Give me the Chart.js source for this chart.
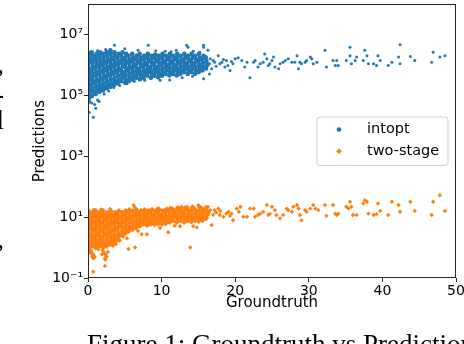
<!DOCTYPE html>
<html><head><meta charset="utf-8">
<script src="https://cdn.jsdelivr.net/npm/chart.js@4.4.1/dist/chart.umd.min.js"></script>
<style>
html,body{margin:0;padding:0;background:#fff;overflow:hidden;}
#wrap{position:relative;width:464px;height:344px;overflow:hidden;background:#fff;}
canvas{position:absolute;left:0;top:0;}
.cap{position:absolute;left:87px;top:331px;font-family:"Liberation Serif","Times New Roman",serif;font-size:27px;line-height:27px;white-space:nowrap;color:#000;}
.frag{position:absolute;left:-26px;width:30px;text-align:right;font-family:"Liberation Serif",serif;font-size:27px;line-height:27px;color:#000;white-space:nowrap;}
</style></head><body>
<div id="wrap">
<canvas id="c" width="464" height="344"></canvas>
<div class="frag" style="top:51px">,</div>
<div class="frag" style="top:81px">-</div>
<div class="frag" style="top:107px">l</div>
<div class="frag" style="top:226px">,</div>
<div class="cap">Figure 1: Groundtruth vs Prediction</div>
</div>
<script>
// ---- axis ticks / labels ----
const xTickValues = [0, 10, 20, 30, 40, 50];
const yTickExponents = [-1, 1, 3, 5, 7];
const seriesLabels = ['intopt', 'two-stage'];

// ---- intopt: dense cluster (Groundtruth 0-16) ----
const intoptCoreX = [
0.1,0.2,0.12,0.25,0.08,0.18,0.22,0.1,0.28,0.15,0.05,0.2,0.12,0.25,
0.55,0.65,0.6,0.5,0.7,0.58,0.62,0.52,0.68,0.6,0.55,0.66,0.5,
1.05,1.15,1.1,1.0,1.2,1.08,1.12,1.02,1.18,1.1,1.05,1.15,
1.55,1.65,1.6,1.5,1.7,1.58,1.62,1.52,1.68,1.6,1.55,1.65,
2.05,2.15,2.1,2.0,2.2,2.08,2.12,2.02,2.18,2.1,2.05,
2.55,2.65,2.6,2.5,2.7,2.58,2.62,2.52,2.68,2.6,2.55,
3.05,3.15,3.1,3.0,3.2,3.08,3.12,3.02,3.18,3.1,3.05,
3.55,3.65,3.6,3.5,3.7,3.58,3.62,3.52,3.68,3.6,
4.05,4.15,4.1,4.0,4.2,4.08,4.12,4.02,4.18,
4.55,4.65,4.6,4.5,4.7,4.58,4.62,4.52,4.68,
5.05,5.15,5.1,5.0,5.2,5.08,5.12,5.02,5.18,
5.55,5.65,5.6,5.5,5.7,5.58,5.62,5.52,
6.05,6.15,6.1,6.0,6.2,6.08,6.12,6.02,
6.55,6.65,6.6,6.5,6.7,6.58,6.62,
7.05,7.15,7.1,7.0,7.2,7.08,7.12,7.02,
7.55,7.65,7.6,7.5,7.7,7.58,7.62,
8.05,8.15,8.1,8.0,8.2,8.08,8.12,
8.55,8.65,8.6,8.5,8.7,8.58,8.62,
9.05,9.15,9.1,9.0,9.2,9.08,9.12,
9.55,9.65,9.6,9.5,9.7,9.58,9.62,
10.05,10.15,10.1,10.0,10.2,10.08,10.12,
10.55,10.65,10.6,10.5,10.7,10.58,
11.05,11.15,11.1,11.0,11.2,11.08,11.12,
11.55,11.65,11.6,11.5,11.7,11.58,
12.05,12.15,12.1,12.0,12.2,12.08,12.12,
12.55,12.65,12.6,12.5,12.7,12.58,
13.05,13.15,13.1,13.0,13.2,13.08,
13.55,13.65,13.6,13.5,13.7,13.58,
14.05,14.15,14.1,14.0,14.2,14.08,
14.55,14.65,14.6,14.5,14.7,14.58,
15.05,15.15,15.1,15.0,15.2,15.08,
15.55,15.65,15.6,15.5,15.7,
16.05,16.2,16.1,16.0
];
const intoptCoreY = [
6.3e4,8.3e4,1.1e5,1.45e5,1.9e5,2.5e5,3.3e5,4.4e5,5.8e5,7.6e5,1e6,1.3e6,1.7e6,2.3e6,
9.5e4,1.3e5,1.7e5,2.2e5,2.9e5,3.8e5,5e5,6.6e5,8.7e5,1.15e6,1.5e6,2e6,2.6e6,
1.1e5,1.45e5,1.9e5,2.5e5,3.3e5,4.4e5,5.8e5,7.6e5,1e6,1.3e6,1.7e6,2.3e6,
1.3e5,1.7e5,2.2e5,2.9e5,3.8e5,5e5,6.6e5,8.7e5,1.15e6,1.5e6,2e6,2.6e6,
1.45e5,1.9e5,2.5e5,3.3e5,4.4e5,5.8e5,7.6e5,1e6,1.3e6,1.7e6,2.3e6,
1.7e5,2.2e5,2.9e5,3.8e5,5e5,6.6e5,8.7e5,1.15e6,1.5e6,2e6,2.6e6,
1.9e5,2.5e5,3.3e5,4.4e5,5.8e5,7.6e5,1e6,1.3e6,1.7e6,2.3e6,3e6,
2.2e5,2.9e5,3.8e5,5e5,6.6e5,8.7e5,1.15e6,1.5e6,2e6,2.6e6,
2.5e5,3.3e5,4.4e5,5.8e5,7.6e5,1e6,1.3e6,1.7e6,2.3e6,
2.9e5,3.8e5,5e5,6.6e5,8.7e5,1.15e6,1.5e6,2e6,2.6e6,
2.6e5,3.3e5,4.4e5,5.8e5,7.6e5,1e6,1.3e6,1.7e6,2.3e6,
2.9e5,3.8e5,5e5,6.6e5,8.7e5,1.15e6,1.5e6,2e6,
3.3e5,4.4e5,5.8e5,7.6e5,1e6,1.3e6,1.7e6,2.3e6,
3.8e5,5e5,6.6e5,8.7e5,1.15e6,1.5e6,2e6,
3.4e5,4.4e5,5.8e5,7.6e5,1e6,1.3e6,1.7e6,2.3e6,
3.8e5,5e5,6.6e5,8.7e5,1.15e6,1.5e6,2e6,
4.4e5,5.8e5,7.6e5,1e6,1.3e6,1.7e6,2.3e6,
3.8e5,5e5,6.6e5,8.7e5,1.15e6,1.5e6,2e6,
4.4e5,5.8e5,7.6e5,1e6,1.3e6,1.7e6,2.2e6,
3.9e5,5e5,6.6e5,8.7e5,1.15e6,1.5e6,2e6,
4.4e5,5.8e5,7.6e5,1e6,1.3e6,1.7e6,2.3e6,
5e5,6.6e5,8.7e5,1.15e6,1.5e6,2e6,
4.5e5,5.8e5,7.6e5,1e6,1.3e6,1.7e6,2.3e6,
5e5,6.6e5,8.7e5,1.15e6,1.5e6,2e6,
4.5e5,5.8e5,7.6e5,1e6,1.3e6,1.7e6,2.3e6,
5e5,6.6e5,8.7e5,1.15e6,1.5e6,2e6,
5.8e5,7.6e5,1e6,1.3e6,1.7e6,2.3e6,
5e5,6.6e5,8.7e5,1.15e6,1.5e6,2e6,
5.8e5,7.6e5,1e6,1.3e6,1.7e6,2.3e6,
5.1e5,6.6e5,8.7e5,1.15e6,1.5e6,2e6,
5.8e5,7.6e5,1e6,1.3e6,1.7e6,2.3e6,
6.6e5,8.7e5,1.15e6,1.5e6,2e6,
7.6e5,1e6,1.3e6,1.7e6
];
// ---- intopt: scattered points on the cluster's edges ----
const intoptEdgeX = [3.6,5.0,8.2,13.4,13.6,15.7,15.2,12.0,2.4,1.3,6.8,10.5,0.4,11.3,9.2,14.3,
0.15,0.72,1.05,0.5,1.3,1.5,0.9,2.2,2.8,3.5,4.3,5.3,6.3,7.7,9.8,11.1,12.8,15.7,14.2,16.5];
const intoptEdgeY = [4.4e6,3.4e6,4.4e6,4.4e6,3.8e6,4.4e6,2.6e6,3e6,3.2e6,2.9e6,3e6,2.8e6,2.7e6,2.7e6,2.9e6,2.8e6,
2.8e4,1.9e4,3.8e4,5.6e4,7e4,6.3e4,5e4,1.1e5,1.4e5,1.8e5,2.1e5,2.4e5,2.9e5,3.1e5,3.1e5,3.2e5,3.8e5,3.5e5,4.2e5,5e5];
// ---- intopt: sparse tail (Groundtruth 16-49) ----
const intoptTailX = [15.7,16.3,17.0,17.7,18.2,18.6,18.8,19.3,19.7,20.0,20.4,20.9,21.3,21.6,22.0,22.5,22.7,23.1,23.4,23.8,
24.0,24.3,24.5,24.7,25.0,25.2,25.4,25.9,26.1,26.5,26.8,27.2,27.7,28.1,28.4,28.6,28.8,29.0,29.5,29.7,
30.2,30.4,30.6,31.1,32.2,32.4,33.3,33.6,33.8,34.0,35.1,35.6,35.6,35.8,36.3,36.5,37.4,37.6,37.9,38.1,
38.8,39.2,39.4,39.7,40.8,41.3,42.2,42.4,42.4,43.8,44.4,46.7,46.9,47.8,48.5,
16.0,16.5,16.8,17.2,17.4,16.6,17.9,18.4,19.0,19.5];
const intoptTailY = [3.8e6,3e6,1.4e6,2e6,1.23e6,8.5e5,1.4e6,6.6e5,1.1e6,1.6e6,1.7e6,1.4e6,8.5e5,1.23e6,3.8e5,1.23e6,1.4e6,8.5e5,1.1e6,1.23e6,
2.3e6,1.6e6,9.5e5,1.1e6,1.4e6,1.8e6,8.5e5,7.4e5,1.1e6,1.23e6,1.4e6,1.6e6,1.23e6,1.23e6,2e6,7.4e5,1.23e6,1.1e6,1.23e6,1.4e6,
1.8e6,1.6e6,1.1e6,1.23e6,3e6,8.5e5,1.4e6,9.5e5,1.4e6,9.5e5,1.4e6,3.8e6,2e6,1.1e6,1.4e6,1.8e6,1.4e6,3e6,2e6,1.1e6,
1.1e6,9.5e5,2e6,1.4e6,9.5e5,1.23e6,1.8e6,4.6e6,1.1e6,1.9e6,1.4e6,1.23e6,2.6e6,1.8e6,2e6,
1.9e6,1.1e6,7.4e5,1.23e6,9e5,1.6e6,1.1e6,1.5e6,9.5e5,1.3e6];

// ---- two-stage: dense cluster (Groundtruth 0-16) ----
const twoStageCoreX = [
0.1,0.2,0.12,0.25,0.08,0.18,0.22,0.1,0.28,0.15,0.05,
0.55,0.65,0.6,0.5,0.7,0.58,0.62,0.52,0.68,0.6,
1.05,1.15,1.1,1.0,1.2,1.08,1.12,1.02,1.18,1.1,1.05,
1.55,1.65,1.6,1.5,1.7,1.58,1.62,1.52,1.68,1.6,
2.05,2.15,2.1,2.0,2.2,2.08,2.12,2.02,2.18,2.1,2.05,
2.55,2.65,2.6,2.5,2.7,2.58,2.62,2.52,2.68,2.6,
3.05,3.15,3.1,3.0,3.2,3.08,3.12,3.02,3.18,3.1,
3.55,3.65,3.6,3.5,3.7,3.58,3.62,3.52,3.68,
4.05,4.15,4.1,4.0,4.2,4.08,4.12,4.02,4.18,
4.55,4.65,4.6,4.5,4.7,4.58,4.62,
5.05,5.15,5.1,5.0,5.2,5.08,5.12,
5.55,5.65,5.6,5.5,5.7,5.58,5.62,
6.05,6.15,6.1,6.0,6.2,6.08,
6.55,6.65,6.6,6.5,6.7,6.58,
7.05,7.15,7.1,7.0,7.2,
7.55,7.65,7.6,7.5,7.7,
8.05,8.15,8.1,8.0,8.2,
8.55,8.65,8.6,8.5,8.7,
9.05,9.15,9.1,9.0,9.2,
9.55,9.65,9.6,9.5,9.7,
10.05,10.15,10.1,10.0,10.2,
10.55,10.65,10.6,10.5,10.7,
11.05,11.15,11.1,11.0,11.2,
11.55,11.65,11.6,11.5,
12.05,12.15,12.1,12.0,12.2,
12.55,12.65,12.6,12.5,
13.05,13.15,13.1,13.0,13.2,
13.55,13.65,13.6,13.5,
14.05,14.15,14.1,14.0,14.2,
14.55,14.65,14.6,14.5,
15.05,15.15,15.1,15.0,15.2,
15.55,15.65,15.6,15.5,
16.05,16.2,16.1,16.0
];
const twoStageCoreY = [
1,1.3,1.7,2.3,3,4,5.2,6.9,9.1,12,15.8,
1.15,1.5,2,2.6,3.5,4.6,6,7.9,10.5,13.8,
1,1.3,1.7,2.3,3,4,5.2,6.9,9.1,12,15.8,
1.15,1.5,2,2.6,3.5,4.6,6,7.9,10.5,13.8,
1,1.3,1.7,2.3,3,4,5.2,6.9,9.1,12,15.8,
1.15,1.5,2,2.6,3.5,4.6,6,7.9,10.5,13.8,
1.3,1.7,2.3,3,4,5.2,6.9,9.1,12,15.8,
1.5,2,2.6,3.5,4.6,6,7.9,10.5,13.8,
1.8,2.3,3,4,5.2,6.9,9.1,12,15.8,
2.6,3.5,4.6,6,7.9,10.5,13.8,
3,4,5.2,6.9,9.1,12,15.8,
3.5,4.6,6,7.9,10.5,13.8,17,
4,5.2,6.9,9.1,12,15.8,
4.6,6,7.9,10.5,13.8,17,
5.2,6.9,9.1,12,15.8,
6,7.9,10.5,13.8,17,
5.4,6.9,9.1,12,15.8,
6,7.9,10.5,13.8,17.5,
5.8,6.9,9.1,12,15.8,
6,7.9,10.5,13.8,17.5,
6.1,7.6,9.1,12,15.8,
6.2,7.9,10.5,13.8,18,
6.9,9.1,12,15.8,19,
7.9,10.5,13.8,18.2,
6.9,9.1,12,15.8,20,
7.9,10.5,13.8,18.2,
6.9,9.1,12,15.8,20,
7.9,10.5,13.8,18.2,
7.2,9.1,12,15.8,21,
7.9,10.5,13.8,18.2,
7.4,9.1,12,15.8,21,
7.9,10.5,13.8,18.2,
9.1,12,15.8,20
];
// ---- two-stage: edge points, downward streaks and outliers ----
const twoStageEdgeX = [6.2,6.4,12.7,15.0,3.0,9.5,1.8,0.8,13.5,16.3,
0.3,0.4,0.5,0.7,0.9,0.75,0.35,0.2,0.55,1.4,2.0,2.2,2.4,2.5,2.3,2.7,1.9,2.35,
0.72,2.3,5.5,6.4,13.9,10.9,8.0,7.3,5.3,14.8,14.3,3.4,4.3,4.8,6.8,9.8,11.8,12.5,3.8];
const twoStageEdgeY = [24.5,20.5,22,24.5,18.5,19.5,18,17.5,21.5,22,
0.87,0.76,0.66,0.58,0.5,0.44,0.66,0.8,0.5,0.87,0.8,0.66,0.58,0.5,0.44,0.72,0.6,0.4,
0.16,0.25,0.9,1.0,1.0,3.2,2.75,2.75,2.0,4.6,5.0,1.15,1.7,2.3,3.5,4.4,5.2,5.0,1.3];
// ---- two-stage: sparse tail (Groundtruth 16-49) ----
const twoStageTailX = [15.7,16.1,16.8,17.2,17.7,17.9,18.4,19.1,19.5,19.7,20.2,20.7,21.1,21.6,22.0,22.5,22.7,23.1,23.4,23.8,
24.3,24.5,24.7,25.0,25.4,25.6,26.1,26.5,27.0,27.2,27.7,27.9,28.4,28.6,28.8,29.0,29.5,29.7,30.2,30.6,
30.9,31.3,32.2,32.4,33.3,33.6,33.8,34.0,35.1,35.4,35.6,35.8,36.0,36.5,37.4,37.6,37.9,38.1,38.8,39.2,
39.4,39.7,40.8,41.3,42.2,42.4,43.8,44.4,46.7,46.9,47.8,48.5,
16.4,16.6,17.0,17.4,18.0,18.8,19.3,20.5];
const twoStageTailY = [17,11.7,5.5,17,19,11.7,10.2,15,13,7.9,19,22,10.2,10.2,19,19,10.2,11.7,13,15,
25,11.7,13,22,17,11.7,9.1,11.7,19,17,15,22,25,19,11.7,7.9,17,15,19,25,
19,17,25,11,25,13,11.7,13,22,19,32,22,11.7,11.7,28,36,32,13,11.7,12.5,
28,16,11.7,32,25,15,32,16,11.7,32,52,16,
14,17,12,14,16,13,11,15];

// ---- build datasets from the arrays ----
function toPoints(xs, ys) { return xs.map((x, i) => ({ x: x, y: ys[i] })); }
const intoptPoints = toPoints(intoptCoreX, intoptCoreY)
  .concat(toPoints(intoptEdgeX, intoptEdgeY), toPoints(intoptTailX, intoptTailY));
const twoStagePoints = toPoints(twoStageCoreX, twoStageCoreY)
  .concat(toPoints(twoStageEdgeX, twoStageEdgeY), toPoints(twoStageTailX, twoStageTailY));
const intoptCoreCount = intoptCoreX.length;
const twoStageCoreCount = twoStageCoreX.length;

const SUP = {'-':'\u207B','0':'\u2070','1':'\u00B9','2':'\u00B2','3':'\u00B3','4':'\u2074','5':'\u2075','6':'\u2076','7':'\u2077','8':'\u2078','9':'\u2079'};
function powLabel(v) {
  const e = Math.round(Math.log10(v));
  return '10' + String(e).split('').map(c => SUP[c]).join('');
}

const framePlugin = {
  id: 'frame',
  afterDatasetsDraw(chart) {
    const { ctx, chartArea: a } = chart;
    ctx.save();
    ctx.strokeStyle = '#262626';
    ctx.lineWidth = 1;
    ctx.strokeRect(a.left + 0.5, a.top + 0.5, a.right - a.left - 1, a.bottom - a.top - 1);
    ctx.restore();
  }
};

const legendPlugin = {
  id: 'mplLegend',
  afterDraw(chart) {
    const { ctx, chartArea: a } = chart;
    const x0 = a.right - 139, y0 = a.top + 113, w = 131, h = 48.5, r = 3;
    ctx.save();
    ctx.beginPath();
    ctx.moveTo(x0 + r, y0);
    ctx.lineTo(x0 + w - r, y0); ctx.quadraticCurveTo(x0 + w, y0, x0 + w, y0 + r);
    ctx.lineTo(x0 + w, y0 + h - r); ctx.quadraticCurveTo(x0 + w, y0 + h, x0 + w - r, y0 + h);
    ctx.lineTo(x0 + r, y0 + h); ctx.quadraticCurveTo(x0, y0 + h, x0, y0 + h - r);
    ctx.lineTo(x0, y0 + r); ctx.quadraticCurveTo(x0, y0, x0 + r, y0);
    ctx.closePath();
    ctx.fillStyle = 'rgba(255,255,255,0.8)';
    ctx.fill();
    ctx.strokeStyle = '#d0d0d0';
    ctx.lineWidth = 1;
    ctx.stroke();
    chart.data.datasets.forEach((ds, i) => {
      const cy = y0 + 12.5 + i * 21.7;
      const mx = x0 + 22;
      ctx.fillStyle = ds.backgroundColor;
      ctx.beginPath();
      if (ds.pointStyle === 'rectRot') {
        const s = 2.9;
        ctx.moveTo(mx, cy - s); ctx.lineTo(mx + s, cy); ctx.lineTo(mx, cy + s); ctx.lineTo(mx - s, cy);
        ctx.closePath();
      } else {
        ctx.arc(mx, cy, 2.3, 0, Math.PI * 2);
      }
      ctx.fill();
      ctx.fillStyle = '#000';
      ctx.font = '14.5px "DejaVu Sans", sans-serif';
      ctx.textBaseline = 'middle';
      ctx.textAlign = 'left';
      ctx.fillText(ds.label, x0 + 50, cy);
    });
    ctx.restore();
  }
};

Chart.defaults.font.family = '"DejaVu Sans", sans-serif';
Chart.defaults.color = '#000';

new Chart(document.getElementById('c'), {
  type: 'scatter',
  data: {
    datasets: [
      { label: seriesLabels[0], data: intoptPoints, backgroundColor: '#1f77b4', pointBackgroundColor: '#1f77b4',
        pointStyle: 'circle', pointBorderWidth: 0,
        pointRadius: c => (c.dataIndex < intoptCoreCount ? 2.3 : 1.5) },
      { label: seriesLabels[1], data: twoStagePoints, backgroundColor: '#ff7f0e', pointBackgroundColor: '#ff7f0e',
        pointStyle: 'rectRot', pointBorderWidth: 0,
        pointRadius: c => (c.dataIndex < twoStageCoreCount ? 3.0 : 2.2) }
    ]
  },
  options: {
    responsive: false,
    animation: false,
    devicePixelRatio: 1,
    events: [],
    layout: { padding: { left: 31, right: 8, top: 2, bottom: 32 } },
    plugins: { legend: { display: false }, tooltip: { enabled: false } },
    scales: {
      x: {
        type: 'linear', min: 0, max: 50,
        afterBuildTicks: s => { s.ticks = xTickValues.map(v => ({ value: v })); },
        afterFit: s => { s.height = 34; s.paddingLeft = 0; s.paddingRight = 0; },
        ticks: { font: { size: 14 }, color: '#000', padding: 1, maxRotation: 0, autoSkip: false },
        grid: { drawOnChartArea: false, drawTicks: true, tickLength: 4, color: '#262626' },
        border: { display: false },
        title: { display: true, text: 'Groundtruth', font: { size: 15 }, color: '#000', padding: 0 }
      },
      y: {
        type: 'logarithmic', min: 0.1, max: 1e8,
        afterBuildTicks: s => { s.ticks = yTickExponents.map(e => ({ value: Math.pow(10, e) })); },
        afterFit: s => { s.width = 57; s.paddingTop = 0; s.paddingBottom = 0; },
        ticks: { font: { size: 14 }, color: '#000', padding: 1, autoSkip: false, callback: v => powLabel(v) },
        grid: { drawOnChartArea: false, drawTicks: true, tickLength: 4, color: '#262626' },
        border: { display: false },
        title: { display: true, text: 'Predictions', font: { size: 15 }, color: '#000', padding: 0 }
      }
    }
  },
  plugins: [framePlugin, legendPlugin]
});
</script>
</body></html>
